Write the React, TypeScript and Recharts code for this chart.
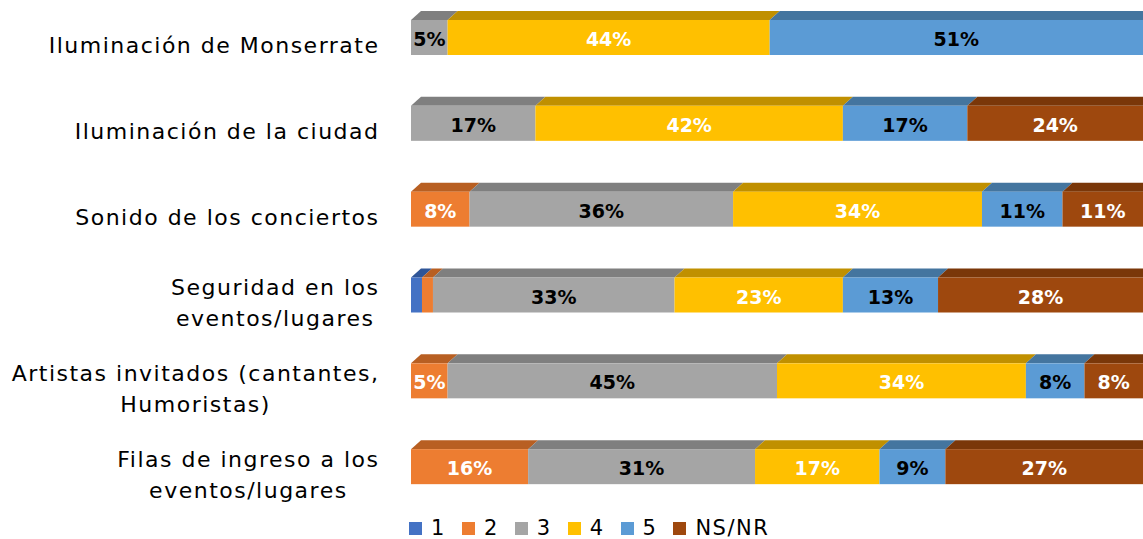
import { BarChart, Bar, XAxis, YAxis, LabelList } from 'recharts'

const categories = [
  'Iluminación de Monserrate',
  'Iluminación de la ciudad',
  'Sonido de los conciertos',
  'Seguridad en los eventos/lugares',
  'Artistas invitados (cantantes, Humoristas)',
  'Filas de ingreso a los eventos/lugares',
]
// split points for the wrapped labels
const labelLines = [
  ['Iluminación de Monserrate'],
  ['Iluminación de la ciudad'],
  ['Sonido de los conciertos'],
  ['Seguridad en los', 'eventos/lugares'],
  ['Artistas invitados (cantantes,', 'Humoristas)'],
  ['Filas de ingreso a los', 'eventos/lugares'],
]

const s1 = [0, 0, 0, 1.5, 0, 0]
const s2 = [0, 0, 8, 1.5, 5, 16]
const s3 = [5, 17, 36, 33, 45, 31]
const s4 = [44, 42, 34, 23, 34, 17]
const s5 = [51, 17, 11, 13, 8, 9]
const sNs = [0, 24, 11, 28, 8, 27]

const seriesKeys = ['1', '2', '3', '4', '5', 'NS/NR']
const seriesValues = [s1, s2, s3, s4, s5, sNs]

const FRONT = ['#4472C4', '#ED7D31', '#A5A5A5', '#FFC000', '#5B9BD5', '#9E480E']
const TOP = ['#2F5597', '#B85F22', '#7F7F7F', '#C09000', '#44759F', '#7A3709']
const LABEL = ['#fff', '#fff', '#000', '#fff', '#000', '#fff']

const data = categories.map((c, i) => {
  const row: Record<string, string | number> = { name: c, idx: i }
  seriesKeys.forEach((k, j) => { row[k] = seriesValues[j][i] })
  return row
})

const FONT = '"DejaVu Sans", sans-serif'
const DX = 10
const DY = 9

function Bar3D(props: any, si: number) {
  const { x, y, width, height } = props
  if (!width || width <= 0) return <g />
  return (
    <g>
      <polygon
        points={`${x},${y} ${x + width},${y} ${x + width + DX},${y - DY} ${x + DX},${y - DY}`}
        fill={TOP[si]}
      />
      <rect x={x} y={y} width={width} height={height} fill={FRONT[si]} />
    </g>
  )
}

function ValueLabel(props: any, si: number) {
  const { x, y, width, height, value } = props
  if (value == null || value < 3) return null
  return (
    <text
      x={x + width / 2}
      y={y + height / 2 + 3}
      textAnchor="middle"
      dominantBaseline="middle"
      fill={LABEL[si]}
      fontFamily={FONT}
      fontWeight="bold"
      fontSize={19}
    >
      {`${Math.round(value)}%`}
    </text>
  )
}

function CatTick(props: any) {
  const { x, y, payload } = props
  const lines = labelLines[payload.index] ?? [payload.value]
  const right = x - 31.5
  return (
    <foreignObject x={0} y={y - 40 + 8} width={right} height={80}>
      <div
        style={{
          width: '100%',
          height: '100%',
          display: 'flex',
          alignItems: 'center',
          justifyContent: 'flex-end',
          fontFamily: FONT,
          fontSize: 22,
          letterSpacing: 1.5,
          color: '#000',
        }}
      >
        <div style={{ textAlign: 'center', lineHeight: '31px', whiteSpace: 'nowrap' }}>
          {lines.map((l, i) => (
            <div key={i}>{l}</div>
          ))}
        </div>
      </div>
    </foreignObject>
  )
}

export default function App() {
  return (
    <div style={{ position: 'absolute', left: 0, top: 0, width: 1143, height: 539, background: '#fff', overflow: 'hidden' }}>
      <BarChart
        width={1143}
        height={539}
        data={data}
        layout="vertical"
        margin={{ top: -5, right: 0, left: 0, bottom: 29 }}
        barSize={35}
      >
        <XAxis type="number" domain={[0, 100]} hide />
        <YAxis
          type="category"
          dataKey="name"
          width={411}
          axisLine={false}
          tickLine={false}
          tickSize={0}
          tickMargin={0}
          interval={0}
          tick={<CatTick />}
        />
        {seriesKeys.map((k, si) => (
          <Bar
            key={k}
            dataKey={k}
            stackId="a"
            isAnimationActive={false}
            shape={(p: any) => Bar3D(p, si)}
          >
            <LabelList dataKey={k} content={(p: any) => ValueLabel(p, si)} />
          </Bar>
        ))}
      </BarChart>
      <div
        style={{
          position: 'absolute',
          left: 409,
          top: 517,
          display: 'flex',
          alignItems: 'center',
          fontFamily: FONT,
          fontSize: 21,
          letterSpacing: 1.5,
          lineHeight: '22px',
          color: '#000',
          height: 22,
        }}
      >
        {seriesKeys.map((k, si) => (
          <div key={k} style={{ display: 'flex', alignItems: 'center', marginRight: 16 }}>
            <span style={{ width: 13, height: 13, background: FRONT[si], display: 'inline-block', marginRight: 9 }} />
            <span>{k}</span>
          </div>
        ))}
      </div>
    </div>
  )
}
